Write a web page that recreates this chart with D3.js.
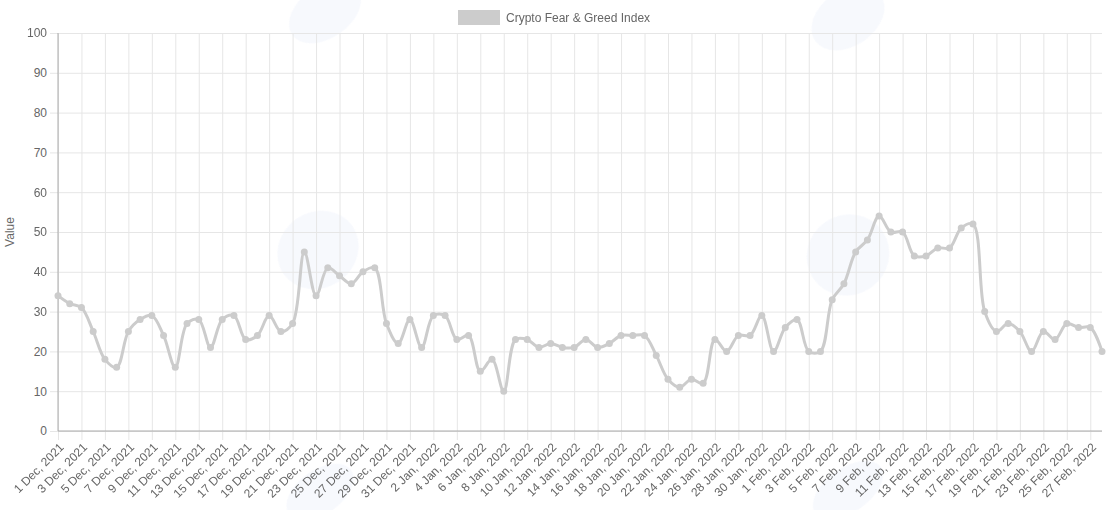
<!DOCTYPE html>
<html lang="en">
<head>
    <meta charset="UTF-8">
    <title>Crypto Fear &amp; Greed Index</title>
    <script src="https://d3js.org/d3.v7.min.js"></script>
    <style>
        body {
            margin: 0;
            background: #fff;
            font-family: "Liberation Sans", Arial, Helvetica, sans-serif;
        }

        svg {
            display: block;
        }
    </style>
</head>
<body>
<div id="chart"></div>

<script>
    const seriesName = "Crypto Fear & Greed Index";
    const startDay = new Date(2021, 11, 1);
    const endDay = new Date(2022, 2, 1);

    const decValues = [34, 32, 31, 25, 18, 16, 25, 28, 29, 24, 16, 27, 28, 21, 28, 29,
        23, 24, 29, 25, 27, 45, 34, 41, 39, 37, 40, 41, 27, 22, 28];
    const janValues = [21, 29, 29, 23, 24, 15, 18, 10, 23, 23, 21, 22, 21, 21, 23, 21,
        22, 24, 24, 24, 19, 13, 11, 13, 12, 23, 20, 24, 24, 29, 20];
    const febValues = [26, 28, 20, 20, 33, 37, 45, 48, 54, 50, 50, 44, 44, 46, 46, 51,
        52, 30, 25, 27, 25, 20, 25, 23, 27, 26, 26, 20];

    const yTicks = [0, 10, 20, 30, 40, 50, 60, 70, 80, 90, 100];

    const days = d3.timeDay.range(startDay, endDay);
    const values = decValues.concat(janValues, febValues);
    const data = days.map((d, i) => ({ day: d, value: values[i] }));
    const fmt = d3.timeFormat("%-d %b, %Y");

    const width = 1110;
    const height = 510;
    const margin = { top: 33, right: 8, bottom: 79, left: 58 };

    const svg = d3.select("#chart").append("svg")
        .attr("width", width)
        .attr("height", height);

    // very faint watermark blobs behind the plot
    const wm = svg.append("g").attr("fill", "#f2f5fc").attr("opacity", 0.6);
    [[325, 12, 40, 26], [318, 250, 42, 38], [320, 492, 38, 22],
     [848, 18, 40, 28], [848, 255, 42, 40], [848, 490, 40, 22]].forEach(([cx, cy, rx, ry]) => {
        wm.append("ellipse")
            .attr("cx", cx).attr("cy", cy).attr("rx", rx).attr("ry", ry)
            .attr("transform", `rotate(-35, ${cx}, ${cy})`);
    });

    const x = d3.scalePoint()
        .domain(days.map(d => +d))
        .range([margin.left, width - margin.right]);

    const y = d3.scaleLinear()
        .domain([0, 100])
        .range([height - margin.bottom, margin.top]);

    const tickDays = days.filter((d, i) => i % 2 === 0).map(d => +d);

    // horizontal grid + y axis
    const yAxis = svg.append("g")
        .attr("transform", `translate(${margin.left},0)`)
        .call(d3.axisLeft(y).tickValues(yTicks).tickSize(8).tickPadding(3));
    yAxis.select(".domain").remove();
    yAxis.selectAll(".tick line")
        .attr("x2", width - margin.right - margin.left)
        .attr("x1", -8)
        .attr("stroke", "#e6e6e6");
    yAxis.selectAll(".tick text")
        .attr("fill", "#666")
        .attr("font-size", 12)
        .attr("font-family", "Liberation Sans, Arial, sans-serif");

    // vertical grid + x axis
    const xAxis = svg.append("g")
        .attr("transform", `translate(0,${height - margin.bottom})`)
        .call(d3.axisBottom(x).tickValues(tickDays).tickFormat(d => fmt(new Date(d))).tickSize(0));
    xAxis.select(".domain").remove();
    xAxis.selectAll(".tick line")
        .attr("y1", margin.top - (height - margin.bottom))
        .attr("y2", 9)
        .attr("stroke", "#e6e6e6");
    xAxis.selectAll(".tick text")
        .attr("fill", "#666")
        .attr("font-size", 12)
        .attr("font-family", "Liberation Sans, Arial, sans-serif")
        .attr("text-anchor", "end")
        .attr("dy", "0.35em")
        .attr("transform", "translate(1,12) rotate(-45)");

    // axis lines
    svg.append("line")
        .attr("x1", margin.left).attr("x2", margin.left)
        .attr("y1", margin.top).attr("y2", height - margin.bottom)
        .attr("stroke", "#aaa");
    svg.append("line")
        .attr("x1", margin.left).attr("x2", width - margin.right)
        .attr("y1", height - margin.bottom).attr("y2", height - margin.bottom)
        .attr("stroke", "#aaa");

    // y axis title
    svg.append("text")
        .attr("transform", `translate(14,${(margin.top + height - margin.bottom) / 2}) rotate(-90)`)
        .attr("text-anchor", "middle")
        .attr("fill", "#666")
        .attr("font-size", 12)
        .text("Value");

    // line
    const line = d3.line()
        .x(d => x(+d.day))
        .y(d => y(d.value))
        .curve(d3.curveCatmullRom.alpha(0.5));

    svg.append("path")
        .datum(data)
        .attr("fill", "none")
        .attr("stroke", "#cccccc")
        .attr("stroke-width", 3)
        .attr("d", line);

    svg.append("g")
        .selectAll("circle")
        .data(data)
        .join("circle")
        .attr("cx", d => x(+d.day))
        .attr("cy", d => y(d.value))
        .attr("r", 3.5)
        .attr("fill", "#cccccc");

    // legend
    const legend = svg.append("g");
    legend.append("rect")
        .attr("x", 458).attr("y", 10)
        .attr("width", 42).attr("height", 15)
        .attr("fill", "#cccccc");
    legend.append("text")
        .attr("x", 506).attr("y", 21.5)
        .attr("fill", "#666")
        .attr("font-size", 12)
        .text(seriesName);
</script>
</body>
</html>
